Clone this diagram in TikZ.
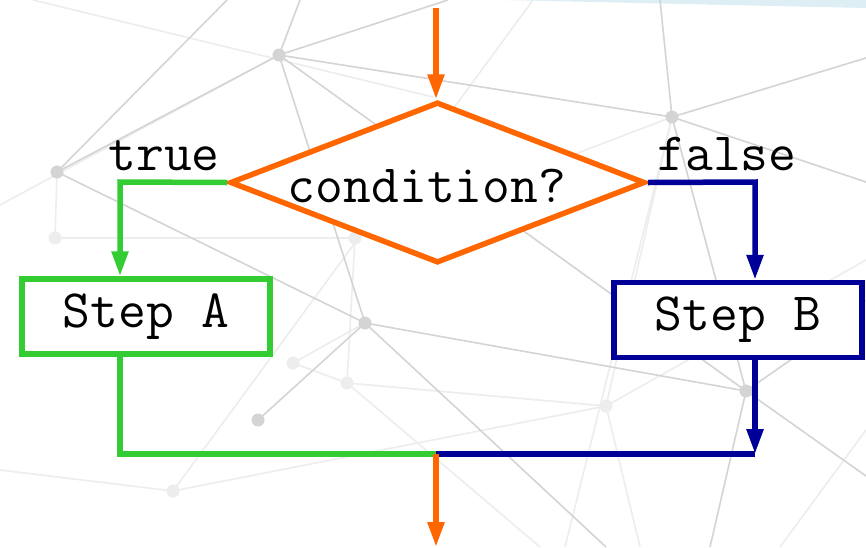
\documentclass[tikz,border=0pt]{standalone}
\usepackage{fontspec}
\usetikzlibrary{arrows.meta,shapes.geometric}
\definecolor{flowOrange}{HTML}{FF6600}
\definecolor{flowGreen}{HTML}{33CC33}
\definecolor{flowNavy}{HTML}{000099}
\definecolor{netDark}{HTML}{D4D4D4}
\definecolor{netLight}{HTML}{EDEDED}
\definecolor{bandBlue}{HTML}{DDEEF4}
\tikzset{
  monotext/.style={font=\ttfamily\fontsize{54}{54}\selectfont, text=black},
  flowline/.style={line width=5.5pt},
  tipped/.style={-{Triangle[length=25pt,width=16pt]}},
  stepbox/.style={draw, line width=5.5pt, fill=white, rectangle, inner sep=0pt,
    minimum width=248pt, minimum height=75pt, monotext},
  decision/.style={draw=flowOrange, line width=5.5pt, fill=white, diamond, inner sep=0pt,
    minimum width=415pt, minimum height=161pt, aspect=2.58},
  netedge/.style={draw=netDark, line width=1.6pt},
  netfaint/.style={draw=netLight, line width=1.6pt},
  netdot/.style={circle, fill=netDark, inner sep=0pt, minimum size=13pt},
  netdotfaint/.style={circle, fill=netLight, inner sep=0pt, minimum size=13pt},
}
\begin{document}
\begin{tikzpicture}[x=1pt,y=-1pt]
\useasboundingbox (0,0) rectangle (866,547);
\fill[white] (0,0) rectangle (866,547);
% pale band along the top edge
\fill[bandBlue] (505,0) -- (866,0) -- (866,8) -- cycle;

% background network: anchor points
\coordinate (nA) at (279,55);
\coordinate (nB) at (57,172);
\coordinate (nC) at (55,238);
\coordinate (nD) at (672,117);
\coordinate (nE) at (365,323);
\coordinate (nF) at (746,391);
\coordinate (nG) at (258,420);
\coordinate (nH) at (173,491);
\coordinate (nI) at (606,406);
\coordinate (nJ) at (347,383);
\coordinate (nK) at (845,322);
\coordinate (nL) at (293,363);
\coordinate (nM) at (355,238);

% faint links
\path[netfaint] (nC) -- (nM) -- (nD);
\path[netfaint] (533,0) -- (nH) -- (nI) -- (nD);
\path[netfaint] (33,0) -- (433,97);
\path[netfaint] (0,205) -- (nA);
\path[netfaint] (nC) -- (nB);
\path[netfaint] (nJ) -- (nL) -- (nE);
\path[netfaint] (nJ) -- (540,547);
\path[netfaint] (nJ) -- (nI);
\path[netfaint] (nD) -- (565,547);
\path[netfaint] (nI) -- (866,260);
\path[netfaint] (nK) -- (866,300);
\path[netfaint] (nI) -- (640,547);
\path[netfaint] (866,430) -- (780,547);
\path[netfaint] (0,470) -- (nH);
\path[netfaint] (nM) -- (nJ);

% stronger links
\path[netedge] (nA) -- (300,0);
\path[netedge] (nA) -- (448,0);
\path[netedge] (nA) -- (nD);
\path[netedge] (nA) -- (nB);
\path[netedge] (nA) -- (nE);
\path[netedge] (nA) -- (nF);
\path[netedge] (nB) -- (227,0);
\path[netedge] (nB) -- (nE);
\path[netedge] (nD) -- (660,0);
\path[netedge] (nD) -- (nF);
\path[netedge] (nD) -- (866,58);
\path[netedge] (nD) -- (866,182);
\path[netedge] (nE) -- (nF);
\path[netedge] (nE) -- (nG);
\path[netedge] (nE) -- (606,547);
\path[netedge] (nF) -- (866,476);
\path[netedge] (nF) -- (nK);
\path[netedge] (nF) -- (710,547);

% network dots
\foreach \p in {nA,nB,nD,nE,nF,nG} \node[netdot] at (\p) {};
\foreach \p in {nC,nH,nI,nJ,nK,nL,nM} \node[netdotfaint] at (\p) {};

% flowchart
\node[decision] (cond) at (437.5,182.5) {};
\node[monotext, anchor=base] (condtext) at (427,202) {condition?};
\node[stepbox, draw=flowGreen] (stepA) at (146,316.5) {Step A};
\node[stepbox, draw=flowNavy] (stepB) at (738,320) {Step B};

\node[monotext, anchor=base] (truelbl) at (164,170) {true};
\node[monotext, anchor=base] (falselbl) at (727,170) {false};

\coordinate (entry) at (436,8);
\coordinate (turnL) at (120,182);
\coordinate (turnR) at (755,182);
\coordinate (joinL) at (120,454);
\coordinate (joinR) at (755,454);
\coordinate (merge) at (436,454);
\coordinate (exit) at (436,547);

\draw[flowline, draw=flowOrange, tipped] (entry) -- (entry |- cond.north);
\draw[flowline, draw=flowGreen, tipped] (cond.west) -- (turnL) -- (turnL |- stepA.north);
\draw[flowline, draw=flowNavy, tipped] (cond.east) -- (turnR) -- (turnR |- stepB.north);
\draw[flowline, draw=flowGreen] (turnL |- stepA.south) -- (joinL) -- (merge);
\draw[flowline, draw=flowNavy, tipped] (turnR |- stepB.south) -- (joinR);
\draw[flowline, draw=flowNavy] (joinR) -- (merge);
\draw[flowline, draw=flowOrange, tipped] (merge) -- (exit);
\end{tikzpicture}
\end{document}
